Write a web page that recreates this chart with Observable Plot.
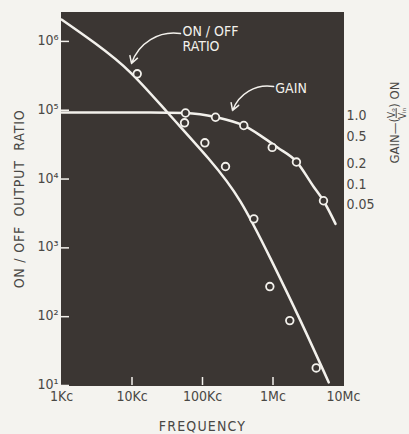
<!DOCTYPE html>
<html>
<head>
<meta charset="utf-8">
<script src="https://cdn.jsdelivr.net/npm/d3@7"></script>
<script src="https://cdn.jsdelivr.net/npm/@observablehq/plot@0.6"></script>
<style>
  html, body { margin: 0; padding: 0; background: #f4f3ef; }
  #chart svg { display: block; }
</style>
</head>
<body>
<div id="chart"></div>
<script>
// ---- ON/OFF output ratio: smooth curve (frequency in c/s) ----
const ratioCurveFreq  = [1000, 3030, 9530, 31900, 121600, 346000, 923000, 2450000, 6180000];
const ratioCurveValue = [2080000, 931000, 353000, 92700, 19900, 4710, 698, 87.7, 11.1];

// ---- ON/OFF output ratio: measured points ----
const ratioPointFreq  = [11860, 55600, 108000, 212000, 535000, 902000, 1730000, 4100000];
const ratioPointValue = [338000, 65600, 33600, 15200, 2640, 274, 87.7, 18.0];

// ---- Gain (Vo/Vin) ON: smooth curve (right-hand scale) ----
const gainCurveFreq  = [1000, 18300, 57400, 153000, 382000, 665000, 1160000, 2150000, 3750000, 5200000, 7710000];
const gainCurveValue = [1.0, 1.0, 0.98, 0.856, 0.645, 0.46, 0.309, 0.193, 0.084, 0.052, 0.024];

// ---- Gain: measured points ----
const gainPointFreq  = [57400, 153000, 385000, 975000, 2150000, 5200000];
const gainPointValue = [0.98, 0.85, 0.645, 0.31, 0.19, 0.052];

// right-hand gain scale shares the left log scale: gain 1.0 sits at this ratio value
const GAIN_REF = 93000;

// ---- axes ----
const yTicks = [10, 100, 1000, 10000, 100000, 1000000];
const yTickExp = ["¹", "²", "³", "⁴", "⁵", "⁶"];
const xTicks = [1e3, 1e4, 1e5, 1e6, 1e7];
const xTickLabels = ["1Kc", "10Kc", "100Kc", "1Mc", "10Mc"];
const gainTicks = [1.0, 0.5, 0.2, 0.1, 0.05];
const gainTickLabels = ["1.0", "0.5", "0.2", "0.1", "0.05"];

const xTitle = "FREQUENCY";
const yTitle = "ON / OFF  OUTPUT  RATIO";
const yRightTitle = "GAIN—(Vₒ/Vᵢₙ) ON";
const yRightParts = {lead: "GAIN—(", num: "Vₒ", den: "Vᵢₙ", tail: ") ON"};

// ---- annotations (data space) ----
const ratioLabel = {text: "ON / OFF\nRATIO", x: 52000, y: 1080000};
const ratioArrow = {x1: 48700, y1: 1300000, x2: 9840, y2: 478000};
const gainLabel  = {text: "GAIN", x: 1080000, y: 206000};
const gainArrow  = {x1: 1020000, y1: 221000, x2: 267000, y2: 99000};

// ---- build tables ----
const ratioCurve = ratioCurveFreq.map((f, i) => ({f, v: ratioCurveValue[i]}));
const ratioPts   = ratioPointFreq.map((f, i) => ({f, v: ratioPointValue[i]}));
const gainCurve  = gainCurveFreq.map((f, i) => ({f, v: gainCurveValue[i] * GAIN_REF}));
const gainPts    = gainPointFreq.map((f, i) => ({f, v: gainPointValue[i] * GAIN_REF}));
const gainTickRows = gainTicks.map((g, i) => ({v: g * GAIN_REF, label: gainTickLabels[i]}));

const FONT = "'DejaVu Sans Condensed', 'Liberation Sans Narrow', 'DejaVu Sans', sans-serif";
const BG = "#3b3633";
const WHITE = "#f3f1ec";
const INK = "#4a4845";

const yLabel = new Map(yTicks.map((t, i) => [t, "10" + yTickExp[i]]));
const xLabel = new Map(xTicks.map((t, i) => [t, xTickLabels[i]]));

const chart = Plot.plot({
  width: 409,
  height: 434,
  marginLeft: 61,
  marginRight: 66,
  marginTop: 12,
  marginBottom: 49,
  style: {background: "transparent", fontFamily: FONT, color: INK, overflow: "visible"},
  x: {type: "log", domain: [1e3, 1e7]},
  y: {type: "log", domain: [10, Math.pow(10, 6.42)]},
  marks: [
    Plot.frame({fill: BG, stroke: BG}),
    // white inner ticks
    Plot.axisY({ticks: yTicks, anchor: "left", tickSize: 8, dx: 8, stroke: WHITE, strokeWidth: 1.5, text: null, label: null}),
    Plot.axisX({ticks: xTicks.slice(1, -1), anchor: "bottom", tickSize: 8, dy: -8, stroke: WHITE, strokeWidth: 1.5, text: null, label: null}),
    // tick labels
    Plot.axisY({ticks: yTicks, anchor: "left", tickSize: 0, tickPadding: 3, dy: -1, tickFormat: d => yLabel.get(d), fontSize: 14, fill: INK, label: null}),
    Plot.axisX({ticks: xTicks, anchor: "bottom", tickSize: 0, tickPadding: 6, tickFormat: d => xLabel.get(d), fontSize: 14, fill: INK, label: null}),
    Plot.text(gainTickRows, {y: "v", text: "label", frameAnchor: "right", textAnchor: "start", lineAnchor: "middle", dx: 3, dy: 3, fontSize: 14, fill: INK}),
    // titles
    Plot.text([xTitle], {frameAnchor: "bottom", dy: 41, lineAnchor: "middle", textAnchor: "middle", fontSize: 14, fill: INK, ariaLabel: () => "x-title"}),
    Plot.text([yTitle], {frameAnchor: "left", dx: -42, rotate: -90, textAnchor: "middle", lineAnchor: "middle", fontSize: 14, fill: INK, ariaLabel: () => "y-title"}),
    Plot.text([yRightTitle], {frameAnchor: "top-right", dx: 51, dy: 110, rotate: -90, textAnchor: "middle", lineAnchor: "middle", fontSize: 13, fill: INK, ariaLabel: () => "gain-title"}),
    // curves
    Plot.line(ratioCurve, {x: "f", y: "v", curve: "natural", stroke: WHITE, strokeWidth: 2.5}),
    Plot.line(gainCurve, {x: "f", y: "v", curve: "monotone-x", stroke: WHITE, strokeWidth: 2.5}),
    Plot.dot(ratioPts, {x: "f", y: "v", r: 3.8, stroke: WHITE, strokeWidth: 1.8, fill: BG}),
    Plot.dot(gainPts, {x: "f", y: "v", r: 3.8, stroke: WHITE, strokeWidth: 1.8, fill: BG}),
    // annotations
    Plot.arrow([ratioArrow], {x1: "x1", y1: "y1", x2: "x2", y2: "y2", bend: -40, stroke: WHITE, strokeWidth: 1.5, headLength: 8}),
    Plot.arrow([gainArrow], {x1: "x1", y1: "y1", x2: "x2", y2: "y2", bend: -40, stroke: WHITE, strokeWidth: 1.5, headLength: 8}),
    Plot.text([ratioLabel], {x: "x", y: "y", text: "text", textAnchor: "start", lineAnchor: "middle", lineHeight: 1.05, fontSize: 14, fill: WHITE}),
    Plot.text([gainLabel], {x: "x", y: "y", text: "text", textAnchor: "start", fontSize: 14, fill: WHITE})
  ]
});

const svg = d3.select(chart);
const findText = (label) => svg.selectAll("text").filter(function () {
  return this.getAttribute("aria-label") === label || (this.parentNode && this.parentNode.getAttribute && this.parentNode.getAttribute("aria-label") === label);
});
findText("y-title").attr("letter-spacing", "0.8px");
findText("x-title").attr("letter-spacing", "1.2px");

// right-hand title with a stacked fraction Vo / Vin
const gt = findText("gain-title");
if (!gt.empty()) {
  gt.text(null);
  gt.append("tspan").text(yRightParts.lead);
  gt.append("tspan").attr("font-size", 10).attr("dy", -4).attr("text-decoration", "underline").text(yRightParts.num);
  gt.append("tspan").attr("font-size", 10).attr("dx", -11).attr("dy", 11).text(yRightParts.den);
  gt.append("tspan").attr("dy", -7).text(yRightParts.tail);
}

document.getElementById("chart").appendChild(chart);
</script>
</body>
</html>
